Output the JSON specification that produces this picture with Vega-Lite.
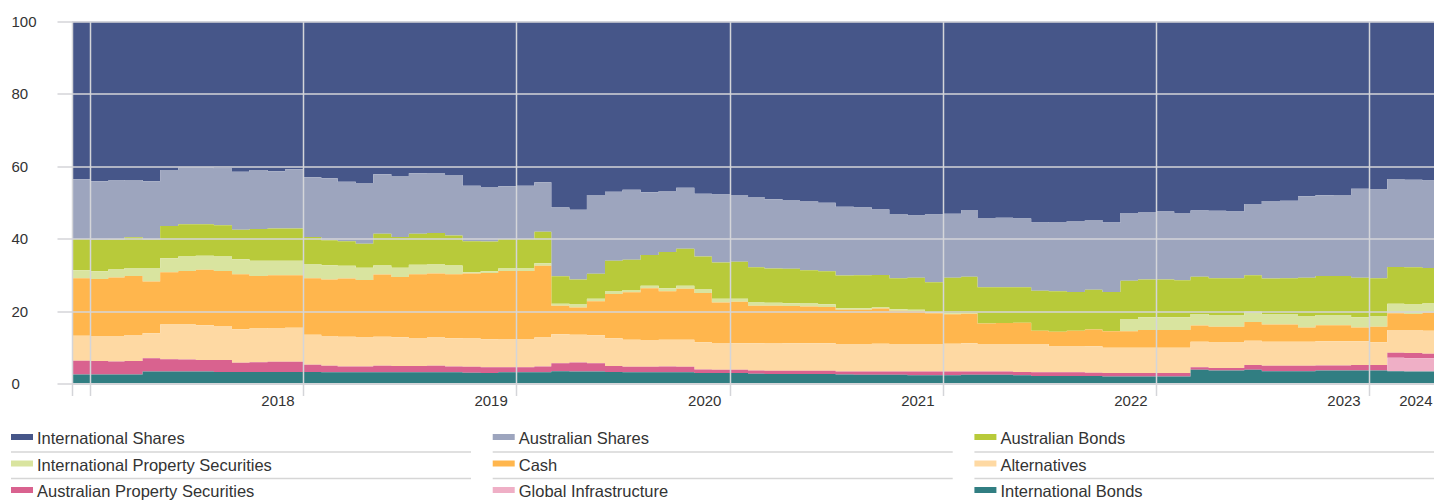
{
  "$schema": "https://vega.github.io/schema/vega-lite/v6.json",
  "padding": {"left": 10, "top": 14.5, "right": 0, "bottom": 0},
  "spacing": 18.5,
  "config": {
    "view": {"stroke": null},
    "font": "Liberation Sans, Arial, sans-serif"
  },
  "datasets": {
    "series": [
      {"key": "IS", "name": "International Shares", "rank": 9, "col": 0, "row": 0},
      {"key": "AS", "name": "Australian Shares", "rank": 8, "col": 1, "row": 0},
      {"key": "AB", "name": "Australian Bonds", "rank": 7, "col": 2, "row": 0},
      {"key": "IPS", "name": "International Property Securities", "rank": 6, "col": 0, "row": 1},
      {"key": "CASH", "name": "Cash", "rank": 5, "col": 1, "row": 1},
      {"key": "ALT", "name": "Alternatives", "rank": 4, "col": 2, "row": 1},
      {"key": "APS", "name": "Australian Property Securities", "rank": 3, "col": 0, "row": 2},
      {"key": "GI", "name": "Global Infrastructure", "rank": 2, "col": 1, "row": 2},
      {"key": "IB", "name": "International Bonds", "rank": 1, "col": 2, "row": 2}
    ],
    "alloc": [
      {"date": "2017-12-01", "IS": 43.6, "AS": 16.5, "AB": 8.6, "IPS": 2.2, "CASH": 15.9, "ALT": 6.9, "APS": 3.8, "GI": 0, "IB": 2.5},
      {"date": "2018-01-01", "IS": 44.1, "AS": 16.2, "AB": 8.7, "IPS": 2.1, "CASH": 15.8, "ALT": 6.9, "APS": 3.7, "GI": 0, "IB": 2.5},
      {"date": "2018-02-01", "IS": 43.9, "AS": 16.3, "AB": 8.3, "IPS": 2.2, "CASH": 16.2, "ALT": 7.0, "APS": 3.6, "GI": 0, "IB": 2.5},
      {"date": "2018-03-01", "IS": 43.8, "AS": 15.8, "AB": 8.5, "IPS": 2.2, "CASH": 16.3, "ALT": 7.2, "APS": 3.7, "GI": 0, "IB": 2.5},
      {"date": "2018-04-01", "IS": 44.1, "AS": 16.1, "AB": 7.9, "IPS": 3.7, "CASH": 14.3, "ALT": 6.9, "APS": 3.7, "GI": 0, "IB": 3.3},
      {"date": "2018-05-01", "IS": 41.0, "AS": 15.5, "AB": 8.9, "IPS": 3.9, "CASH": 14.4, "ALT": 9.6, "APS": 3.4, "GI": 0, "IB": 3.3},
      {"date": "2018-06-01", "IS": 40.4, "AS": 15.6, "AB": 8.9, "IPS": 4.0, "CASH": 14.8, "ALT": 9.7, "APS": 3.3, "GI": 0, "IB": 3.3},
      {"date": "2018-07-01", "IS": 40.4, "AS": 15.6, "AB": 8.7, "IPS": 3.9, "CASH": 15.3, "ALT": 9.6, "APS": 3.2, "GI": 0, "IB": 3.3},
      {"date": "2018-08-01", "IS": 40.6, "AS": 15.7, "AB": 8.6, "IPS": 4.0, "CASH": 15.2, "ALT": 9.4, "APS": 3.3, "GI": 0, "IB": 3.2},
      {"date": "2018-09-01", "IS": 41.5, "AS": 16.0, "AB": 8.2, "IPS": 4.1, "CASH": 15.2, "ALT": 9.3, "APS": 2.5, "GI": 0, "IB": 3.2},
      {"date": "2018-10-01", "IS": 41.0, "AS": 16.3, "AB": 8.8, "IPS": 4.2, "CASH": 14.5, "ALT": 9.3, "APS": 2.7, "GI": 0, "IB": 3.2},
      {"date": "2018-11-01", "IS": 41.4, "AS": 15.8, "AB": 8.9, "IPS": 4.0, "CASH": 14.6, "ALT": 9.3, "APS": 2.8, "GI": 0, "IB": 3.2},
      {"date": "2018-12-01", "IS": 40.8, "AS": 16.4, "AB": 8.9, "IPS": 4.0, "CASH": 14.5, "ALT": 9.4, "APS": 2.8, "GI": 0, "IB": 3.2},
      {"date": "2019-01-01", "IS": 43.0, "AS": 16.5, "AB": 7.5, "IPS": 3.9, "CASH": 15.6, "ALT": 8.3, "APS": 2.0, "GI": 0, "IB": 3.2},
      {"date": "2019-02-01", "IS": 43.3, "AS": 17.1, "AB": 6.9, "IPS": 4.0, "CASH": 15.6, "ALT": 8.2, "APS": 1.8, "GI": 0, "IB": 3.1},
      {"date": "2019-03-01", "IS": 44.3, "AS": 16.4, "AB": 6.8, "IPS": 3.5, "CASH": 16.1, "ALT": 8.2, "APS": 1.6, "GI": 0, "IB": 3.1},
      {"date": "2019-04-01", "IS": 44.6, "AS": 16.8, "AB": 6.6, "IPS": 3.4, "CASH": 15.9, "ALT": 8.0, "APS": 1.6, "GI": 0, "IB": 3.1},
      {"date": "2019-05-01", "IS": 42.2, "AS": 16.4, "AB": 8.8, "IPS": 2.5, "CASH": 17.2, "ALT": 8.0, "APS": 1.8, "GI": 0, "IB": 3.1},
      {"date": "2019-06-01", "IS": 42.7, "AS": 16.8, "AB": 8.5, "IPS": 2.6, "CASH": 16.6, "ALT": 8.0, "APS": 1.7, "GI": 0, "IB": 3.1},
      {"date": "2019-07-01", "IS": 41.9, "AS": 16.7, "AB": 8.6, "IPS": 2.6, "CASH": 17.6, "ALT": 7.8, "APS": 1.7, "GI": 0, "IB": 3.1},
      {"date": "2019-08-01", "IS": 42.0, "AS": 16.4, "AB": 8.7, "IPS": 2.5, "CASH": 17.7, "ALT": 7.8, "APS": 1.8, "GI": 0, "IB": 3.1},
      {"date": "2019-09-01", "IS": 42.4, "AS": 16.7, "AB": 8.3, "IPS": 2.4, "CASH": 17.7, "ALT": 7.8, "APS": 1.6, "GI": 0, "IB": 3.1},
      {"date": "2019-10-01", "IS": 45.4, "AS": 15.3, "AB": 8.6, "IPS": 0.3, "CASH": 18.0, "ALT": 7.8, "APS": 1.6, "GI": 0, "IB": 3.0},
      {"date": "2019-11-01", "IS": 45.7, "AS": 15.1, "AB": 8.2, "IPS": 0.5, "CASH": 18.3, "ALT": 7.7, "APS": 1.6, "GI": 0, "IB": 2.9},
      {"date": "2019-12-01", "IS": 45.5, "AS": 14.6, "AB": 8.1, "IPS": 0.7, "CASH": 18.8, "ALT": 7.8, "APS": 1.4, "GI": 0, "IB": 3.1},
      {"date": "2020-01-01", "IS": 45.4, "AS": 14.7, "AB": 8.1, "IPS": 0.7, "CASH": 18.8, "ALT": 7.8, "APS": 1.4, "GI": 0, "IB": 3.1},
      {"date": "2020-02-01", "IS": 44.4, "AS": 13.7, "AB": 8.7, "IPS": 0.7, "CASH": 19.8, "ALT": 8.0, "APS": 1.6, "GI": 0, "IB": 3.1},
      {"date": "2020-03-01", "IS": 51.4, "AS": 19.0, "AB": 7.6, "IPS": 0.5, "CASH": 7.9, "ALT": 8.0, "APS": 2.2, "GI": 0, "IB": 3.4},
      {"date": "2020-04-01", "IS": 52.0, "AS": 19.3, "AB": 6.9, "IPS": 0.8, "CASH": 7.5, "ALT": 7.7, "APS": 2.5, "GI": 0, "IB": 3.3},
      {"date": "2020-05-01", "IS": 47.9, "AS": 21.8, "AB": 6.9, "IPS": 0.7, "CASH": 9.4, "ALT": 7.7, "APS": 2.3, "GI": 0, "IB": 3.3},
      {"date": "2020-06-01", "IS": 47.0, "AS": 19.1, "AB": 8.5, "IPS": 0.7, "CASH": 12.2, "ALT": 7.7, "APS": 1.6, "GI": 0, "IB": 3.2},
      {"date": "2020-07-01", "IS": 46.5, "AS": 19.3, "AB": 8.4, "IPS": 0.6, "CASH": 13.1, "ALT": 7.5, "APS": 1.5, "GI": 0, "IB": 3.1},
      {"date": "2020-08-01", "IS": 47.2, "AS": 17.3, "AB": 8.5, "IPS": 0.7, "CASH": 14.3, "ALT": 7.4, "APS": 1.5, "GI": 0, "IB": 3.1},
      {"date": "2020-09-01", "IS": 46.8, "AS": 16.9, "AB": 10.0, "IPS": 0.8, "CASH": 13.4, "ALT": 7.4, "APS": 1.6, "GI": 0, "IB": 3.1},
      {"date": "2020-10-01", "IS": 45.9, "AS": 16.9, "AB": 10.2, "IPS": 0.8, "CASH": 14.1, "ALT": 7.5, "APS": 1.5, "GI": 0, "IB": 3.1},
      {"date": "2020-11-01", "IS": 47.6, "AS": 17.3, "AB": 9.1, "IPS": 1.0, "CASH": 13.6, "ALT": 7.5, "APS": 1.0, "GI": 0, "IB": 2.9},
      {"date": "2020-12-01", "IS": 47.8, "AS": 18.8, "AB": 10.0, "IPS": 1.0, "CASH": 11.2, "ALT": 7.4, "APS": 0.9, "GI": 0, "IB": 2.9},
      {"date": "2021-01-01", "IS": 47.9, "AS": 18.5, "AB": 10.2, "IPS": 0.8, "CASH": 11.5, "ALT": 7.3, "APS": 0.9, "GI": 0, "IB": 2.9},
      {"date": "2021-02-01", "IS": 48.5, "AS": 19.4, "AB": 9.7, "IPS": 0.9, "CASH": 10.4, "ALT": 7.5, "APS": 0.9, "GI": 0, "IB": 2.7},
      {"date": "2021-03-01", "IS": 49.1, "AS": 19.1, "AB": 9.5, "IPS": 0.8, "CASH": 10.3, "ALT": 7.7, "APS": 0.9, "GI": 0, "IB": 2.6},
      {"date": "2021-04-01", "IS": 49.3, "AS": 19.0, "AB": 9.5, "IPS": 0.8, "CASH": 10.3, "ALT": 7.6, "APS": 0.9, "GI": 0, "IB": 2.6},
      {"date": "2021-05-01", "IS": 49.6, "AS": 19.1, "AB": 9.2, "IPS": 0.8, "CASH": 10.2, "ALT": 7.6, "APS": 0.9, "GI": 0, "IB": 2.6},
      {"date": "2021-06-01", "IS": 50.1, "AS": 18.9, "AB": 9.1, "IPS": 0.8, "CASH": 10.0, "ALT": 7.6, "APS": 0.9, "GI": 0, "IB": 2.6},
      {"date": "2021-07-01", "IS": 51.2, "AS": 19.0, "AB": 9.0, "IPS": 0.4, "CASH": 9.5, "ALT": 7.6, "APS": 0.8, "GI": 0, "IB": 2.5},
      {"date": "2021-08-01", "IS": 51.4, "AS": 18.7, "AB": 9.1, "IPS": 0.4, "CASH": 9.5, "ALT": 7.6, "APS": 0.9, "GI": 0, "IB": 2.4},
      {"date": "2021-09-01", "IS": 51.9, "AS": 18.1, "AB": 9.0, "IPS": 0.3, "CASH": 9.7, "ALT": 7.7, "APS": 0.9, "GI": 0, "IB": 2.4},
      {"date": "2021-10-01", "IS": 53.2, "AS": 17.7, "AB": 8.6, "IPS": 0.4, "CASH": 9.2, "ALT": 7.6, "APS": 0.9, "GI": 0, "IB": 2.4},
      {"date": "2021-11-01", "IS": 53.6, "AS": 17.2, "AB": 8.8, "IPS": 0.4, "CASH": 9.1, "ALT": 7.6, "APS": 1.0, "GI": 0, "IB": 2.3},
      {"date": "2021-12-01", "IS": 53.3, "AS": 18.7, "AB": 8.3, "IPS": 0.3, "CASH": 8.5, "ALT": 7.6, "APS": 1.0, "GI": 0, "IB": 2.3},
      {"date": "2022-01-01", "IS": 53.1, "AS": 17.7, "AB": 9.8, "IPS": 0.3, "CASH": 8.1, "ALT": 7.7, "APS": 1.0, "GI": 0, "IB": 2.3},
      {"date": "2022-02-01", "IS": 52.1, "AS": 18.4, "AB": 10.1, "IPS": 0.1, "CASH": 8.2, "ALT": 7.8, "APS": 0.9, "GI": 0, "IB": 2.4},
      {"date": "2022-03-01", "IS": 54.3, "AS": 19.1, "AB": 10.0, "IPS": 0, "CASH": 5.7, "ALT": 7.6, "APS": 0.9, "GI": 0, "IB": 2.4},
      {"date": "2022-04-01", "IS": 54.2, "AS": 19.2, "AB": 9.9, "IPS": 0, "CASH": 5.8, "ALT": 7.6, "APS": 0.9, "GI": 0, "IB": 2.4},
      {"date": "2022-05-01", "IS": 54.4, "AS": 19.0, "AB": 9.8, "IPS": 0, "CASH": 5.9, "ALT": 7.7, "APS": 0.9, "GI": 0, "IB": 2.3},
      {"date": "2022-06-01", "IS": 55.5, "AS": 18.9, "AB": 11.0, "IPS": 0, "CASH": 3.7, "ALT": 7.8, "APS": 1.0, "GI": 0, "IB": 2.1},
      {"date": "2022-07-01", "IS": 55.4, "AS": 19.1, "AB": 11.2, "IPS": 0, "CASH": 4.1, "ALT": 7.1, "APS": 1.0, "GI": 0, "IB": 2.1},
      {"date": "2022-08-01", "IS": 55.1, "AS": 19.6, "AB": 10.7, "IPS": 0, "CASH": 4.4, "ALT": 7.1, "APS": 1.0, "GI": 0, "IB": 2.1},
      {"date": "2022-09-01", "IS": 54.8, "AS": 19.3, "AB": 11.0, "IPS": 0, "CASH": 4.6, "ALT": 7.3, "APS": 0.9, "GI": 0, "IB": 2.1},
      {"date": "2022-10-01", "IS": 55.5, "AS": 19.2, "AB": 10.9, "IPS": 0, "CASH": 4.5, "ALT": 7.0, "APS": 1.0, "GI": 0, "IB": 1.9},
      {"date": "2022-11-01", "IS": 52.9, "AS": 18.7, "AB": 10.6, "IPS": 3.4, "CASH": 4.5, "ALT": 7.0, "APS": 1.0, "GI": 0, "IB": 1.9},
      {"date": "2022-12-01", "IS": 52.6, "AS": 18.7, "AB": 10.4, "IPS": 3.5, "CASH": 4.9, "ALT": 7.0, "APS": 1.0, "GI": 0, "IB": 1.9},
      {"date": "2023-01-01", "IS": 52.5, "AS": 18.8, "AB": 10.4, "IPS": 3.5, "CASH": 4.9, "ALT": 7.0, "APS": 1.0, "GI": 0, "IB": 1.9},
      {"date": "2023-02-01", "IS": 52.9, "AS": 18.6, "AB": 10.2, "IPS": 3.5, "CASH": 4.9, "ALT": 7.0, "APS": 1.0, "GI": 0, "IB": 1.9},
      {"date": "2023-03-01", "IS": 52.2, "AS": 18.3, "AB": 10.3, "IPS": 3.2, "CASH": 4.5, "ALT": 7.0, "APS": 0.7, "GI": 0, "IB": 3.8},
      {"date": "2023-04-01", "IS": 52.3, "AS": 18.6, "AB": 10.3, "IPS": 3.1, "CASH": 4.4, "ALT": 7.0, "APS": 0.7, "GI": 0, "IB": 3.6},
      {"date": "2023-05-01", "IS": 52.5, "AS": 18.4, "AB": 10.3, "IPS": 3.1, "CASH": 4.4, "ALT": 7.0, "APS": 0.7, "GI": 0, "IB": 3.6},
      {"date": "2023-06-01", "IS": 50.4, "AS": 19.7, "AB": 10.1, "IPS": 2.8, "CASH": 5.2, "ALT": 6.7, "APS": 1.3, "GI": 0, "IB": 3.8},
      {"date": "2023-07-01", "IS": 49.6, "AS": 21.4, "AB": 9.8, "IPS": 2.9, "CASH": 4.8, "ALT": 6.6, "APS": 1.5, "GI": 0, "IB": 3.4},
      {"date": "2023-08-01", "IS": 49.5, "AS": 21.4, "AB": 9.9, "IPS": 2.9, "CASH": 4.8, "ALT": 6.6, "APS": 1.5, "GI": 0, "IB": 3.4},
      {"date": "2023-09-01", "IS": 48.3, "AS": 22.5, "AB": 10.7, "IPS": 3.0, "CASH": 4.0, "ALT": 6.6, "APS": 1.5, "GI": 0, "IB": 3.4},
      {"date": "2023-10-01", "IS": 48.0, "AS": 22.3, "AB": 10.8, "IPS": 2.8, "CASH": 4.4, "ALT": 6.7, "APS": 1.4, "GI": 0, "IB": 3.6},
      {"date": "2023-11-01", "IS": 47.9, "AS": 22.4, "AB": 10.8, "IPS": 2.8, "CASH": 4.4, "ALT": 6.7, "APS": 1.4, "GI": 0, "IB": 3.6},
      {"date": "2023-12-01", "IS": 46.2, "AS": 24.6, "AB": 10.9, "IPS": 2.8, "CASH": 3.8, "ALT": 6.6, "APS": 1.5, "GI": 0, "IB": 3.6},
      {"date": "2024-01-01", "IS": 46.4, "AS": 24.5, "AB": 10.6, "IPS": 2.8, "CASH": 4.3, "ALT": 6.3, "APS": 1.5, "GI": 0, "IB": 3.6},
      {"date": "2024-02-01", "IS": 43.5, "AS": 24.3, "AB": 10.2, "IPS": 2.6, "CASH": 4.6, "ALT": 6.3, "APS": 1.4, "GI": 3.7, "IB": 3.4},
      {"date": "2024-03-01", "IS": 43.7, "AS": 24.2, "AB": 10.3, "IPS": 2.6, "CASH": 4.4, "ALT": 6.4, "APS": 1.4, "GI": 3.7, "IB": 3.3},
      {"date": "2024-04-01", "IS": 43.9, "AS": 24.2, "AB": 9.8, "IPS": 2.5, "CASH": 5.0, "ALT": 6.4, "APS": 1.2, "GI": 3.7, "IB": 3.3},
      {"date": "2024-04-21", "IS": 43.9, "AS": 24.2, "AB": 9.8, "IPS": 2.5, "CASH": 5.0, "ALT": 6.4, "APS": 1.2, "GI": 3.7, "IB": 3.3}
    ]
  },
  "vconcat": [
    {
      "width": 1362,
      "height": 362,
      "data": {"name": "alloc"},
      "transform": [
        {"fold": ["IS", "AS", "AB", "IPS", "CASH", "ALT", "APS", "GI", "IB"], "as": ["key", "value"]},
        {"lookup": "key", "from": {"data": {"name": "series"}, "key": "key", "fields": ["name", "rank"]}}
      ],
      "mark": {"type": "area", "interpolate": "step-after", "clip": true},
      "encoding": {
        "x": {
          "field": "date",
          "type": "temporal",
          "scale": {
            "domain": [
              {"year": 2017, "month": 12, "date": 1, "utc": true},
              {"year": 2024, "month": 4, "date": 21, "utc": true}
            ],
            "nice": false
          },
          "axis": {
            "title": null,
            "values": [
              {"year": 2017, "month": 12, "date": 1, "utc": true},
              {"year": 2018, "month": 1, "date": 1, "utc": true},
              {"year": 2019, "month": 1, "date": 1, "utc": true},
              {"year": 2020, "month": 1, "date": 1, "utc": true},
              {"year": 2021, "month": 1, "date": 1, "utc": true},
              {"year": 2022, "month": 1, "date": 1, "utc": true},
              {"year": 2023, "month": 1, "date": 1, "utc": true},
              {"year": 2024, "month": 1, "date": 1, "utc": true},
              {"year": 2024, "month": 4, "date": 21, "utc": true}
            ],
            "labelExpr": "utcmonth(datum.value) == 0 && utcyear(datum.value) >= 2019 ? '' + (utcyear(datum.value) - 1) : (utcmonth(datum.value) == 3 ? '2024' : '')",
            "labelAlign": "right",
            "labelBaseline": "top",
            "labelPadding": -2.5,
            "labelOffset": {"condition": {"test": "utcmonth(datum.value) == 3", "value": -2}, "value": -9},
            "labelFlush": false,
            "labelOverlap": false,
            "labelFontSize": 15,
            "labelColor": "#333333",
            "tickSize": 12,
            "tickColor": "#d4d5d9",
            "tickWidth": 1.5,
            "tickOpacity": {"condition": {"test": "utcmonth(datum.value) == 3", "value": 0}, "value": 1},
            "grid": true,
            "gridColor": "#d4d5d9",
            "gridWidth": 1.5,
            "gridOpacity": {"condition": {"test": "utcmonth(datum.value) == 3", "value": 0}, "value": 1},
            "domain": true,
            "domainColor": "#d4d5d9",
            "domainWidth": 2,
            "zindex": 1
          }
        },
        "y": {
          "field": "value",
          "type": "quantitative",
          "stack": "zero",
          "scale": {"domain": [0, 100], "nice": false},
          "axis": {
            "title": null,
            "values": [0, 20, 40, 60, 80, 100],
            "labelAlign": "left",
            "labelBaseline": "middle",
            "labelPadding": 46,
            "labelFontSize": 15,
            "labelColor": "#333333",
            "labelFlush": false,
            "tickSize": 15,
            "tickColor": "#d4d5d9",
            "tickWidth": 1.5,
            "grid": true,
            "gridColor": "#d4d5d9",
            "gridWidth": 1.5,
            "domain": false,
            "zindex": 1
          }
        },
        "color": {
          "field": "name",
          "type": "nominal",
          "scale": {
            "domain": ["International Shares", "Australian Shares", "Australian Bonds", "International Property Securities", "Cash", "Alternatives", "Australian Property Securities", "Global Infrastructure", "International Bonds"],
            "range": ["#465689", "#9da5be", "#b8ca3a", "#d9e49f", "#ffb64d", "#fed9a3", "#d9628f", "#efafc6", "#317e82"]
          },
          "legend": null
        },
        "order": {"field": "rank", "type": "quantitative"}
      }
    },
    {
      "width": 1362,
      "height": 75,
      "data": {"name": "series"},
      "encoding": {
        "x": {"field": "col", "type": "quantitative", "scale": {"domain": [0.1266, 2.9541], "nice": false, "zero": false}, "axis": null},
        "y": {"field": "row", "type": "quantitative", "scale": {"domain": [-0.453, 2.377], "nice": false, "zero": false, "reverse": true}, "axis": null}
      },
      "layer": [
        {
          "transform": [{"filter": "datum.row < 2"}],
          "mark": {"type": "rule", "color": "#d6d6d6", "strokeWidth": 1.5, "yOffset": 13, "x2Offset": 460},
          "encoding": {"x2": {"field": "col"}}
        },
        {
          "mark": {"type": "rect", "x2Offset": 22, "yOffset": -5, "y2Offset": 1},
          "encoding": {
            "x2": {"field": "col"},
            "y2": {"field": "row"},
            "color": {
              "field": "name",
              "type": "nominal",
              "scale": {
                "domain": ["International Shares", "Australian Shares", "Australian Bonds", "International Property Securities", "Cash", "Alternatives", "Australian Property Securities", "Global Infrastructure", "International Bonds"],
                "range": ["#465689", "#9da5be", "#b8ca3a", "#d9e49f", "#ffb64d", "#fed9a3", "#d9628f", "#efafc6", "#317e82"]
              },
              "legend": null
            }
          }
        },
        {
          "mark": {"type": "text", "align": "left", "baseline": "middle", "dx": 26, "fontSize": 16.5, "color": "#333333"},
          "encoding": {"text": {"field": "name"}}
        }
      ]
    }
  ]
}
